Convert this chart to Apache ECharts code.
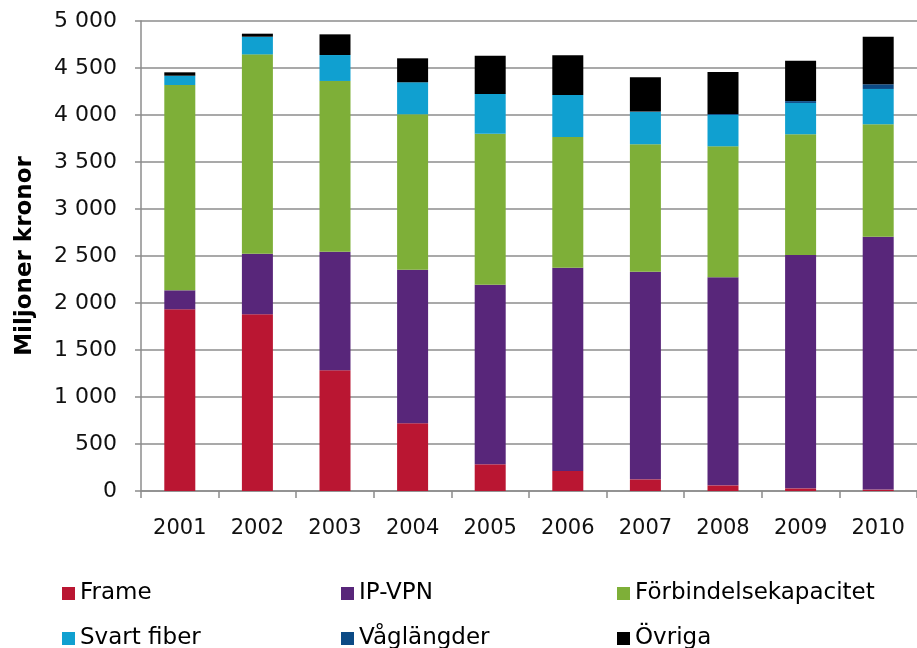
<!DOCTYPE html>
<html>
<head>
<meta charset="utf-8">
<script src="https://cdn.jsdelivr.net/npm/echarts@6/dist/echarts.min.js"></script>
<style>
  html, body { margin: 0; padding: 0; background: #fff; }
  #chart { width: 917px; height: 648px; }
</style>
</head>
<body>
<div id="chart"></div>
<script>
// Years on the x axis
var years = ['2001', '2002', '2003', '2004', '2005', '2006', '2007', '2008', '2009', '2010'];

// Values per service type (miljoner kronor)
var frame      = [1933, 1880, 1284, 720, 284, 213, 124, 60, 28, 15];
var ipVpn      = [202, 645, 1262, 1635, 1911, 2163, 2209, 2213, 2483, 2691];
var forbindelse = [2184, 2120, 1816, 1652, 1606, 1390, 1355, 1394, 1283, 1195];
var svartFiber = [99, 188, 276, 341, 422, 447, 344, 333, 334, 376];
var vaglangder = [0, 0, 0, 0, 0, 0, 4, 10, 20, 50];
var ovriga     = [36, 32, 220, 255, 408, 422, 365, 447, 430, 506];

var seriesNames = ['Frame', 'IP-VPN', 'Förbindelsekapacitet', 'Svart fiber', 'Våglängder', 'Övriga'];
var seriesData = [frame, ipVpn, forbindelse, svartFiber, vaglangder, ovriga];
var colors = ['#BA1632', '#58267A', '#7EAF38', '#10A0D0', '#0B4A85', '#000000'];

var font = '"DejaVu Sans", Verdana, sans-serif';
var gridColor = '#8c8c8c';

// legend laid out as 2 rows x 3 columns
var legendCols = [62, 341, 617];
var legendRows = [582, 627];
var legends = seriesNames.map(function (name, i) {
    return {
        data: [name],
        left: legendCols[i % 3],
        top: legendRows[Math.floor(i / 3)],
        padding: 0,
        icon: 'rect',
        itemWidth: 13,
        itemHeight: 13,
        itemGap: 5,
        selectedMode: false,
        textStyle: { fontFamily: font, fontSize: 23, color: '#000' }
    };
});

var series = seriesNames.map(function (name, i) {
    return {
        name: name,
        type: 'bar',
        stack: 'total',
        barWidth: 31,
        data: seriesData[i],
        itemStyle: { color: colors[i] },
        emphasis: { disabled: true }
    };
});

var options = {
    animation: false,
    backgroundColor: '#fff',
    color: colors,
    legend: legends,
    grid: {
        left: 141,
        top: 21,
        width: 787,
        height: 470,
        containLabel: false
    },
    xAxis: {
        type: 'category',
        data: years,
        axisLine: { lineStyle: { color: gridColor, width: 1.5 } },
        axisTick: { show: true, length: 7, lineStyle: { color: gridColor, width: 1.5 } },
        axisLabel: { margin: 27, fontFamily: font, fontSize: 21, color: '#111' }
    },
    yAxis: {
        type: 'value',
        min: 0,
        max: 5000,
        interval: 500,
        name: 'Miljoner kronor',
        nameLocation: 'middle',
        nameGap: 104,
        nameTextStyle: { fontFamily: font, fontSize: 23, fontWeight: 'bold', color: '#000' },
        axisLine: { show: true, lineStyle: { color: gridColor, width: 1.5 } },
        axisTick: { show: true, length: 6, lineStyle: { color: gridColor, width: 1.5 } },
        splitLine: { lineStyle: { color: gridColor, width: 1.5 } },
        axisLabel: {
            margin: 24,
            fontFamily: font,
            fontSize: 22,
            color: '#111',
            formatter: function (v) {
                return String(v).replace(/\B(?=(\d{3})+(?!\d))/g, ' ');
            }
        }
    },
    series: series
};

var myChart = echarts.init(document.getElementById('chart'));
myChart.setOption(options);
</script>
</body>
</html>
